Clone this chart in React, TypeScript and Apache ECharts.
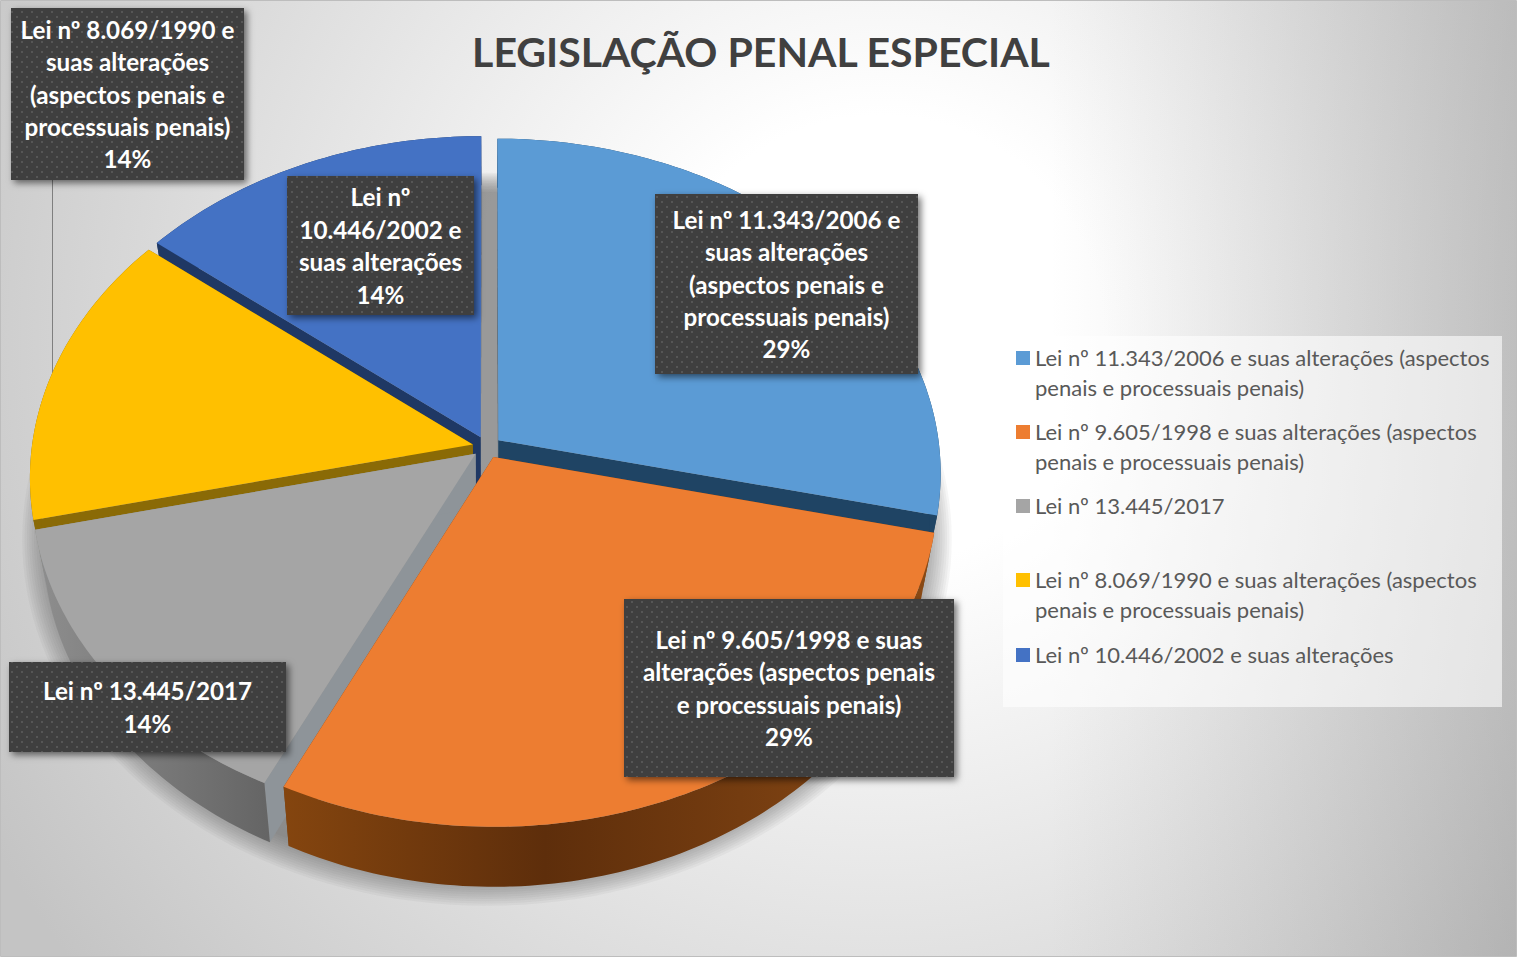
import React, { useEffect, useRef } from "react";
import * as echarts from "echarts";

const chartTitle = "LEGISLAÇÃO PENAL ESPECIAL";
const categories = [
  "Lei nº 11.343/2006 e suas alterações (aspectos penais e processuais penais)",
  "Lei nº 9.605/1998 e suas alterações (aspectos penais e processuais penais)",
  "Lei nº 13.445/2017",
  "Lei nº 8.069/1990 e suas alterações (aspectos penais e processuais penais)",
  "Lei nº 10.446/2002 e suas alterações",
];
const values = [2, 2, 1, 1, 1];
const colors = ["#5B9BD5", "#ED7D31", "#A5A5A5", "#FFC000", "#4472C4"];
const legendLines = [
  ["Lei nº 11.343/2006 e suas alterações (aspectos", "penais e processuais penais)"],
  ["Lei nº 9.605/1998 e suas alterações (aspectos", "penais e processuais penais)"],
  ["Lei nº 13.445/2017"],
  ["Lei nº 8.069/1990 e suas alterações (aspectos", "penais e processuais penais)"],
  ["Lei nº 10.446/2002 e suas alterações"],
];
const labelLines = [
  ["Lei nº 11.343/2006 e", "suas alterações", "(aspectos penais e", "processuais penais)"],
  ["Lei nº 9.605/1998 e suas", "alterações (aspectos penais", "e processuais penais)"],
  ["Lei nº 13.445/2017"],
  ["Lei nº 8.069/1990 e", "suas alterações", "(aspectos penais e", "processuais penais)"],
  ["Lei nº", "10.446/2002 e", "suas alterações"],
];
const wallColors = ["#1F4464", "#6B360E", "#7C7C7C", "#8A6A06", "#1F3864"];
const cutColors = ["#1F4464", "#7A3F10", "#8E9499", "#8A6A06", "#1F3864"];
const drawRank = [3, 5, 4, 2, 1];
// label boxes: x, y, width, height
const labelBoxes = [
  [655, 194, 263, 180],
  [624, 599, 330, 178],
  [9, 662, 277, 90],
  [11, 8, 233, 172],
  [287, 176, 187, 139],
];
const legendY = [358, 432, 506, 580, 655];

const W = 1517;
const H = 957;
const CX = 487;
const CY = 447;
const RX = 441;
const RY = 332;
const PERSP = 0.097;
const DEPTH = 54;
const SHRINK = 0.025;
const EXPLODE = 0.033;
const SHADOW_RINGS = 14;

const total = values.reduce((a, b) => a + b, 0);

function project(r: number, deg: number, h: number, mid: number | null, ex = EXPLODE) {
  const t = (deg * Math.PI) / 180;
  let u = r * Math.sin(t);
  let v = r * Math.cos(t);
  if (mid !== null) {
    const m = (mid * Math.PI) / 180;
    u += ex * Math.sin(m);
    v += ex * Math.cos(m);
  }
  const s = 1 / (1 + PERSP * v);
  const x = RX * u * s * (1 - SHRINK * h);
  const y = -RY * v * s + DEPTH * h * s;
  return [CX + x, CY + y];
}

function arc(a0: number, a1: number, h: number, mid: number) {
  const pts: number[][] = [];
  const n = Math.max(2, Math.ceil(a1 - a0));
  for (let i = 0; i <= n; i++) pts.push(project(1, a0 + ((a1 - a0) * i) / n, h, mid));
  return pts;
}

function dotPattern() {
  const c = document.createElement("canvas");
  c.width = 10;
  c.height = 10;
  const g = c.getContext("2d")!;
  g.fillStyle = "#3F3F3F";
  g.fillRect(0, 0, 10, 10);
  g.fillStyle = "#565656";
  g.fillRect(1, 1, 2, 2);
  g.fillRect(6, 6, 2, 2);
  return c;
}

const wallFill = (i: number) => {
  if (i === 1)
    return new echarts.graphic.LinearGradient(
      285, 0, 935, 0,
      [
        { offset: 0, color: "#84450F" },
        { offset: 0.4, color: "#5E2E0B" },
        { offset: 1, color: "#8A4A15" },
      ],
      true
    );
  if (i === 2)
    return new echarts.graphic.LinearGradient(
      36, 0, 272, 0,
      [
        { offset: 0, color: "#8E8E8E" },
        { offset: 1, color: "#646464" },
      ],
      true
    );
  return wallColors[i];
};

export default function App() {
  const ref = useRef<HTMLDivElement>(null);

  useEffect(() => {
    document.body.style.margin = "0";
    document.documentElement.style.overflow = "hidden";
    const chart = echarts.init(ref.current!, undefined, { renderer: "svg" });
    const pattern = { image: dotPattern(), repeat: "repeat", imageWidth: 10, imageHeight: 10 };

    const renderItem = (params: any, api: any) => {
      const i = params.dataIndex;
      let before = 0;
      for (let k = 0; k < i; k++) before += values[k];
      const a0 = (before / total) * 360;
      const a1 = ((before + api.value(0)) / total) * 360;
      const mid = (a0 + a1) / 2;
      const rank = drawRank[i] * 10;
      const children: any[] = [];

      if (i === 0) {
        for (let q = 0; q < SHADOW_RINGS; q++) {
          const r = 1.075 - (0.075 * q) / SHADOW_RINGS;
          const ring: number[][] = [];
          for (let d = 0; d < 360; d += 2) ring.push(project(r, d, 1, null));
          children.push({
            type: "polygon",
            z2: 1,
            shape: { points: ring },
            style: { fill: "rgba(80,80,80,0.05)" },
          });
        }
      }

      const apexT = project(0, 0, 0, mid);
      const apexB = project(0, 0, 1, mid);
      const topArc = arc(a0, a1, 0, mid);
      const botArc = arc(a0, a1, 1, mid);
      const first = topArc[0];
      const last = topArc[topArc.length - 1];
      const firstB = botArc[0];
      const lastB = botArc[botArc.length - 1];

      children.push(
        {
          type: "polygon",
          z2: rank,
          shape: { points: [apexT, first, firstB, apexB] },
          style: { fill: cutColors[i] },
        },
        {
          type: "polygon",
          z2: rank + 1,
          shape: { points: [apexT, last, lastB, apexB] },
          style: { fill: cutColors[i] },
        },
        {
          type: "polygon",
          z2: rank + 2,
          shape: { points: topArc.concat(botArc.slice().reverse()) },
          style: { fill: wallFill(i) },
        },
        {
          type: "polygon",
          z2: rank + 3,
          shape: { points: [apexT, ...topArc] },
          style: { fill: colors[i] },
        }
      );

      const [bx, by, bw, bh] = labelBoxes[i];
      const pct = Math.round((api.value(0) / total) * 100) + "%";
      children.push(
        {
          type: "rect",
          z2: 100,
          shape: { x: bx, y: by, width: bw, height: bh },
          style: {
            fill: "#3F3F3F",
            shadowBlur: 7,
            shadowOffsetX: 3,
            shadowOffsetY: 3,
            shadowColor: "rgba(0,0,0,0.55)",
          },
        },
        {
          type: "rect",
          z2: 101,
          shape: { x: bx, y: by, width: bw, height: bh },
          style: { fill: pattern },
        },
        {
          type: "text",
          z2: 102,
          style: {
            text: [...labelLines[i], pct].join("\n"),
            x: bx + bw / 2,
            y: by + bh / 2,
            align: "center",
            verticalAlign: "middle",
            fill: "#FFFFFF",
            font: "bold 24.2px Lato",
            lineHeight: 32.4,
          },
        }
      );

      return { type: "group", children };
    };

    const legendGraphics: any[] = [];
    legendLines.forEach((lines, i) => {
      legendGraphics.push({
        type: "rect",
        shape: { x: 1016, y: legendY[i] - 7, width: 14, height: 14 },
        style: { fill: colors[i] },
      });
      legendGraphics.push({
        type: "text",
        style: {
          text: lines.join("\n"),
          x: 1035,
          y: legendY[i] - 16,
          align: "left",
          verticalAlign: "top",
          fill: "#595959",
          font: "22px Lato",
          lineHeight: 30,
        },
      });
    });

    chart.setOption({
      animation: false,
      title: {
        text: chartTitle,
        left: 756,
        top: 26,
        textAlign: "center",
        textStyle: { color: "#404040", fontFamily: "Lato", fontWeight: "bold", fontSize: 41 },
      },
      graphic: [
        {
          type: "rect",
          z: -10,
          shape: { x: 0.5, y: 0.5, width: W - 1, height: H - 1 },
          style: {
            fill: new echarts.graphic.RadialGradient(
              880, 340, 1020,
              [
                { offset: 0, color: "#FFFFFF" },
                { offset: 0.22, color: "#FFFFFF" },
                { offset: 0.6, color: "#E2E2E2" },
                { offset: 1, color: "#C4C4C4" },
              ],
              true
            ),
            stroke: "#BDBDBD",
            lineWidth: 1,
          },
        },
        {
          type: "rect",
          z: -9,
          shape: { x: 1050, y: 1, width: W - 1051, height: H - 2 },
          style: {
            fill: new echarts.graphic.LinearGradient(
              1050, 0, 1516, 0,
              [
                { offset: 0, color: "rgba(150,150,150,0)" },
                { offset: 1, color: "rgba(130,130,130,0.35)" },
              ],
              true
            ),
          },
        },
        {
          type: "line",
          z: -5,
          shape: { x1: 52.5, y1: 180, x2: 52.5, y2: 375 },
          style: { stroke: "#7F7F7F", lineWidth: 1 },
        },
        {
          type: "rect",
          z: -4,
          shape: { x: 1003, y: 336, width: 499, height: 371 },
          style: { fill: "rgba(255,255,255,0.6)" },
        },
        ...legendGraphics.map((g) => ({ ...g, z: -3 })),
      ],
      series: [
        {
          type: "custom",
          coordinateSystem: "none",
          silent: true,
          z: 2,
          data: categories.map((name, i) => ({ name, value: values[i] })),
          renderItem,
        },
      ],
    });

    return () => chart.dispose();
  }, []);

  return <div ref={ref} style={{ width: W, height: H }} />;
}
